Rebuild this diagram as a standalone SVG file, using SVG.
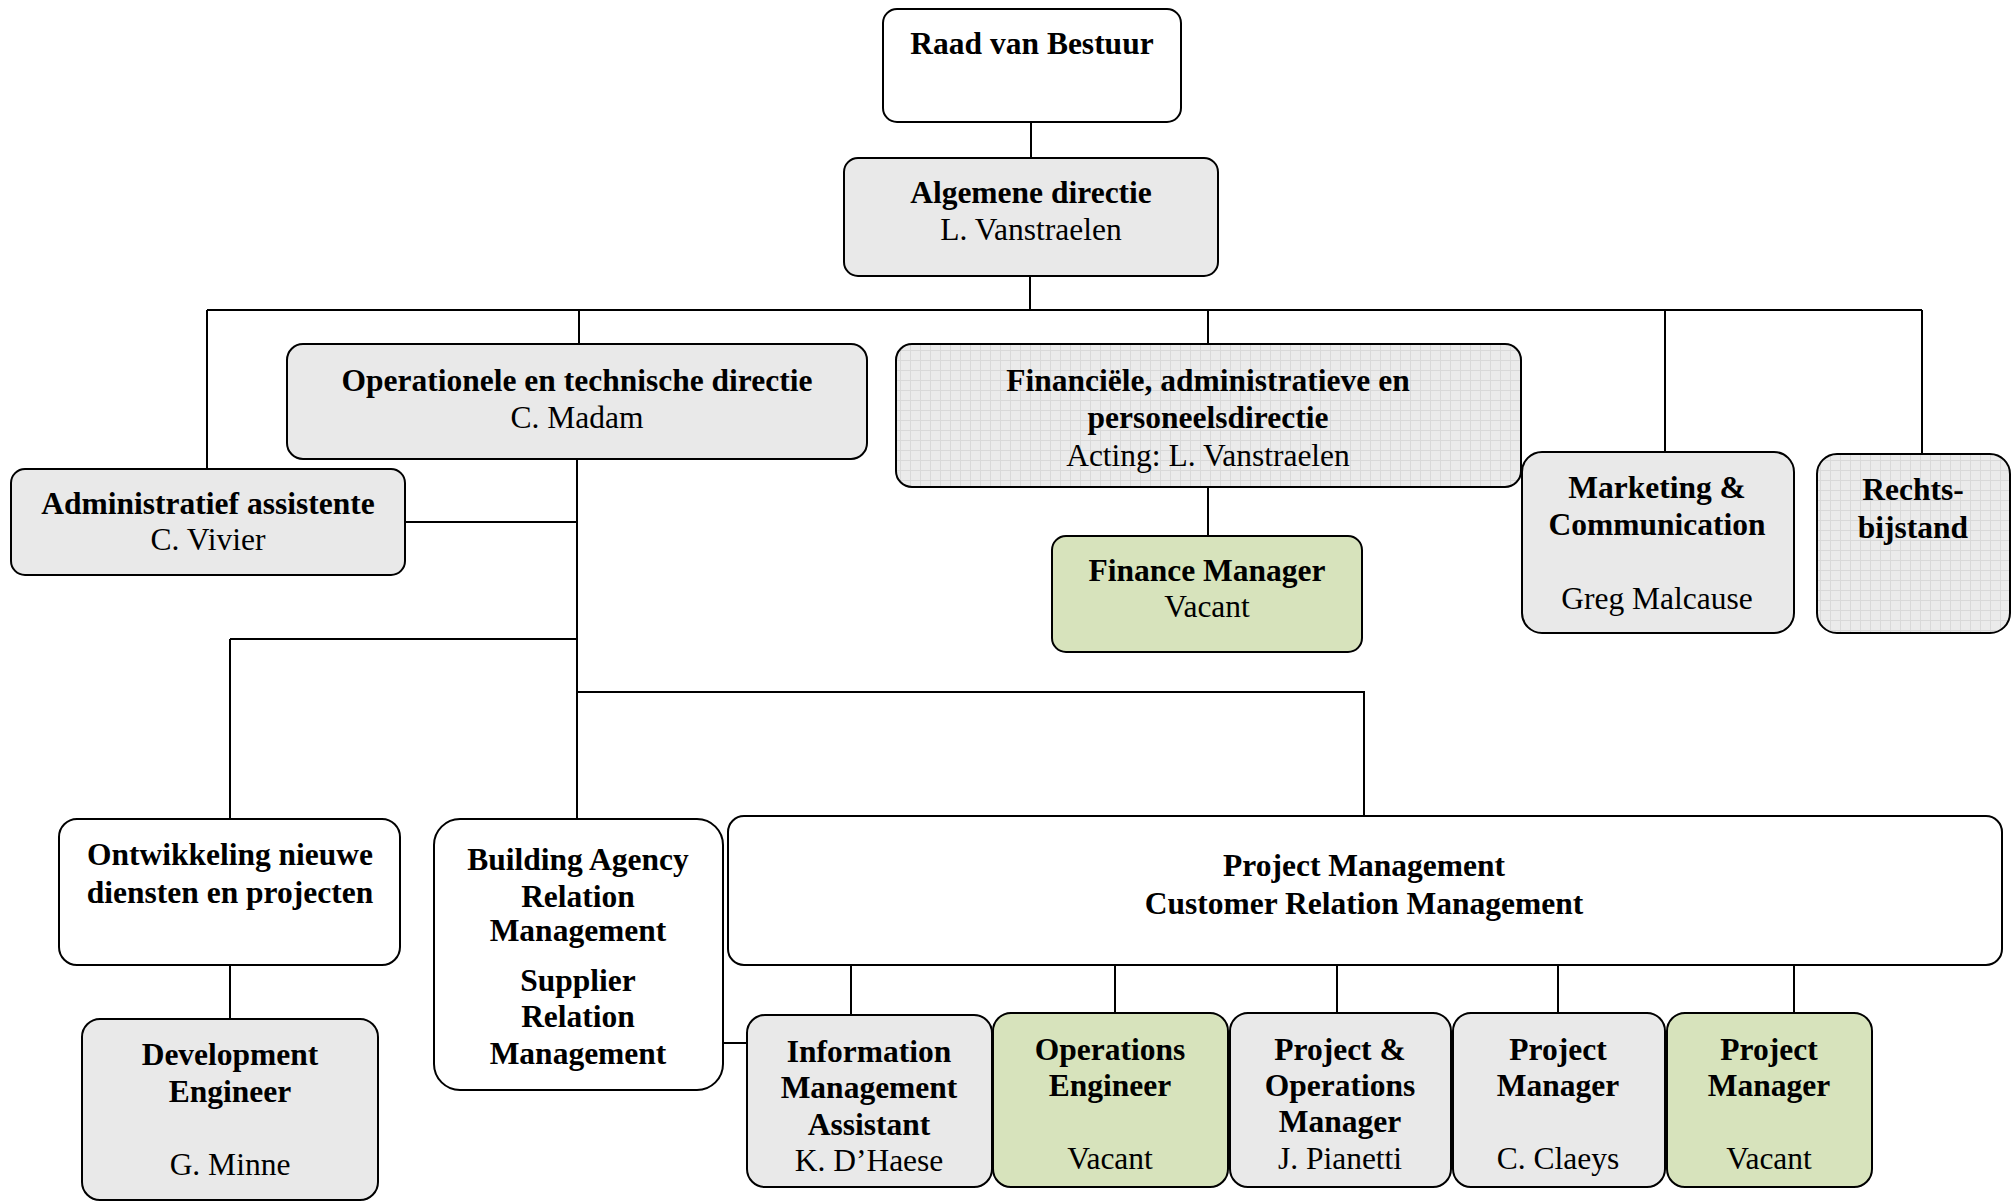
<svg xmlns="http://www.w3.org/2000/svg" width="2015" height="1203" viewBox="0 0 2015 1203">
<style>
.box{stroke:#000;stroke-width:2}
.w{fill:#fff}
.g{fill:#e9e9e9}
.gr{fill:#d7e3bc}
.grid{fill:url(#grid)}
.c{fill:none;stroke:#000;stroke-width:2}
text{font-family:"Liberation Serif","Times New Roman",serif;font-size:31.5px;text-anchor:middle;fill:#000}
.b{font-weight:bold}
</style>
<defs>
<pattern id="grid" width="10" height="10" patternUnits="userSpaceOnUse">
<rect width="10" height="10" fill="#ebebeb"/>
<path d="M0 0.5H10M0.5 0V10" stroke="#d9d9d9" stroke-width="1"/>
</pattern>
</defs>
<rect width="2015" height="1203" fill="#fff"/>
<g id="connectors">
<path class="c" d="M1031 122V158M1030 276V310M207 310H1922M207 310V469M579 310V344M1208 310V344M1665 310V452M1922 310V454M1208 487V536"/>
<path class="c" d="M577 459V819M405 522H577M230 639H577M230 639V819M577 692H1364V816M230 965V1019M723 1043H747M851 965V1015M1115 965V1013M1337 965V1013M1558 965V1013M1794 965V1013"/>
</g>
<g id="raad"><rect class="box w" x="883" y="9" width="298" height="113" rx="14"/><text class="b" x="1032" y="54">Raad van Bestuur</text></g>
<g id="algemene"><rect class="box g" x="844" y="158" width="374" height="118" rx="14"/><text class="b" x="1031" y="203">Algemene directie</text><text x="1031" y="240">L. Vanstraelen</text></g>
<g id="operationele"><rect class="box g" x="287" y="344" width="580" height="115" rx="16"/><text class="b" x="577" y="391">Operationele en technische directie</text><text x="577" y="428">C. Madam</text></g>
<g id="financiele"><rect class="box grid" x="896" y="344" width="625" height="143" rx="16"/><text class="b" x="1208" y="391">Financiële, administratieve en</text><text class="b" x="1208" y="428">personeelsdirectie</text><text x="1208" y="466">Acting: L. Vanstraelen</text></g>
<g id="admin"><rect class="box g" x="11" y="469" width="394" height="106" rx="14"/><text class="b" x="208" y="514">Administratief assistente</text><text x="208" y="550">C. Vivier</text></g>
<g id="finance-manager"><rect class="box gr" x="1052" y="536" width="310" height="116" rx="14"/><text class="b" x="1207" y="581">Finance Manager</text><text x="1207" y="617">Vacant</text></g>
<g id="marketing"><rect class="box g" x="1522" y="452" width="272" height="181" rx="20"/><text class="b" x="1657" y="498">Marketing &amp;</text><text class="b" x="1657" y="535">Communication</text><text x="1657" y="609">Greg Malcause</text></g>
<g id="rechtsbijstand"><rect class="box grid" x="1817" y="454" width="193" height="179" rx="20"/><text class="b" x="1913" y="500">Rechts-</text><text class="b" x="1913" y="538">bijstand</text></g>
<g id="ontwikkeling"><rect class="box w" x="59" y="819" width="341" height="146" rx="18"/><text class="b" x="230" y="865">Ontwikkeling nieuwe</text><text class="b" x="230" y="903">diensten en projecten</text></g>
<g id="building"><rect class="box w" x="434" y="819" width="289" height="271" rx="26"/><text class="b" x="578" y="870">Building Agency</text><text class="b" x="578" y="907">Relation</text><text class="b" x="578" y="941">Management</text><text class="b" x="578" y="991">Supplier</text><text class="b" x="578" y="1027">Relation</text><text class="b" x="578" y="1064">Management</text></g>
<g id="project-management"><rect class="box w" x="728" y="816" width="1274" height="149" rx="16"/><text class="b" x="1364" y="876">Project Management</text><text class="b" x="1364" y="914">Customer Relation Management</text></g>
<g id="development"><rect class="box g" x="82" y="1019" width="296" height="181" rx="18"/><text class="b" x="230" y="1065">Development</text><text class="b" x="230" y="1102">Engineer</text><text x="230" y="1175">G. Minne</text></g>
<g id="info-assistant"><rect class="box g" x="747" y="1015" width="245" height="172" rx="18"/><text class="b" x="869" y="1062">Information</text><text class="b" x="869" y="1098">Management</text><text class="b" x="869" y="1135">Assistant</text><text x="869" y="1171">K. D’Haese</text></g>
<g id="operations-engineer"><rect class="box gr" x="993" y="1013" width="235" height="174" rx="18"/><text class="b" x="1110" y="1060">Operations</text><text class="b" x="1110" y="1096">Engineer</text><text x="1110" y="1169">Vacant</text></g>
<g id="project-operations-manager"><rect class="box g" x="1230" y="1013" width="221" height="174" rx="18"/><text class="b" x="1340" y="1060">Project &amp;</text><text class="b" x="1340" y="1096">Operations</text><text class="b" x="1340" y="1132">Manager</text><text x="1340" y="1169">J. Pianetti</text></g>
<g id="project-manager-claeys"><rect class="box g" x="1453" y="1013" width="212" height="174" rx="18"/><text class="b" x="1558" y="1060">Project</text><text class="b" x="1558" y="1096">Manager</text><text x="1558" y="1169">C. Claeys</text></g>
<g id="project-manager-vacant"><rect class="box gr" x="1667" y="1013" width="205" height="174" rx="18"/><text class="b" x="1769" y="1060">Project</text><text class="b" x="1769" y="1096">Manager</text><text x="1769" y="1169">Vacant</text></g>
</svg>
